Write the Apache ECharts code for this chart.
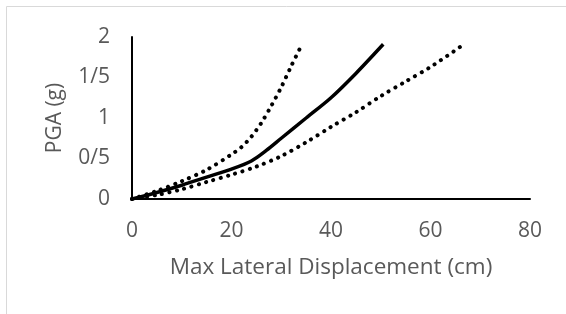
<!DOCTYPE html>
<html>
<head>
<meta charset="utf-8">
<script src="https://cdn.jsdelivr.net/npm/echarts@6/dist/echarts.min.js"></script>
<style>
  html, body { margin: 0; padding: 0; background: #fff; }
  #chart { width: 566px; height: 314px; }
</style>
</head>
<body>
<div id="chart"></div>
<script>
// [displacement cm, PGA g]
var upperDotted = [[0, 0], [5, 0.1], [10, 0.22], [15, 0.36], [20, 0.55], [22, 0.64], [24, 0.77], [26, 0.94], [28, 1.15], [30, 1.38], [32, 1.64], [34, 1.89]]
var solidLine = [[0, 0], [5, 0.08], [10, 0.17], [15, 0.27], [20, 0.37], [24, 0.47], [27, 0.6], [30, 0.75], [35, 1.0], [40, 1.25], [45, 1.55], [50.5, 1.91]]
var lowerDotted = [[0, 0], [5, 0.05], [10, 0.12], [15, 0.21], [20, 0.3], [25, 0.4], [30, 0.53], [35, 0.7], [40, 0.89], [45, 1.07], [50, 1.27], [55, 1.45], [60, 1.63], [66.5, 1.9]]
var yTickLabels = ['0', '0/5', '1', '1/5', '2']

var chart = echarts.init(document.getElementById('chart'))
var fontFamily = 'Open Sans'
var dotStyle = { color: '#000', width: 4, type: [0.1, 7.5], cap: 'round' }

chart.setOption({
  animation: false,
  graphic: [{
    type: 'rect',
    shape: { x: 6.5, y: 6.5, width: 600, height: 400 },
    style: { fill: 'none', stroke: '#d9d9d9', lineWidth: 1 }
  }],
  grid: { left: 132, top: 37, right: 36, bottom: 115 },
  xAxis: {
    type: 'value',
    min: 0,
    max: 80,
    interval: 20,
    name: 'Max Lateral Displacement (cm)',
    nameLocation: 'middle',
    nameGap: 57,
    nameTextStyle: { color: '#595959', fontSize: 22.5, fontFamily: fontFamily },
    axisLine: { lineStyle: { color: '#000', width: 2 } },
    axisTick: { show: false },
    splitLine: { show: false },
    axisLabel: { color: '#595959', fontSize: 21, fontFamily: fontFamily, margin: 22 }
  },
  yAxis: {
    type: 'value',
    min: 0,
    max: 2,
    interval: 0.5,
    name: 'PGA (g)',
    nameLocation: 'middle',
    nameGap: 66,
    nameTextStyle: { color: '#595959', fontSize: 21, fontFamily: fontFamily },
    axisLine: { show: true, lineStyle: { color: '#000', width: 2 } },
    axisTick: { show: false },
    splitLine: { show: false },
    axisLabel: {
      color: '#595959',
      fontSize: 21,
      fontFamily: fontFamily,
      margin: 22,
      formatter: function (v) { return yTickLabels[Math.round(v / 0.5)] }
    }
  },
  series: [{
    type: 'line',
    data: upperDotted,
    smooth: 0.3,
    showSymbol: false,
    lineStyle: dotStyle
  }, {
    type: 'line',
    data: solidLine,
    smooth: 0.3,
    showSymbol: false,
    lineStyle: { color: '#000', width: 3.5 }
  }, {
    type: 'line',
    data: lowerDotted,
    smooth: 0.3,
    showSymbol: false,
    lineStyle: dotStyle
  }]
})
</script>
</body>
</html>
